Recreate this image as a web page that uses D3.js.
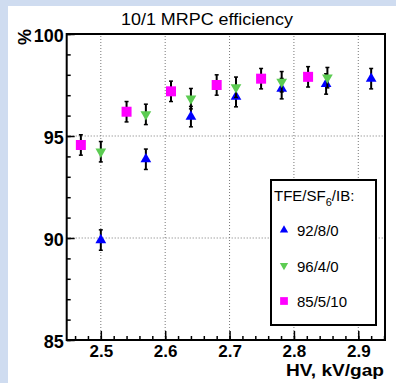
<!doctype html>
<html lang="en">
<head>
  <script src="https://cdnjs.cloudflare.com/ajax/libs/d3/7.8.5/d3.min.js"></script>
  <style type="text/css">
    body {
      padding: 0;
      margin: 0;
      background: #cfdcf0;
    }
    #canvas {
      display: block;
    }
  </style>
</head>
<body>
<svg id="canvas" width="396" height="383"></svg>
<script>

// efficiency (%) vs HV (kV/gap) for three gas mixtures
var hvBlue = [2.50, 2.57, 2.64, 2.71, 2.781, 2.85, 2.92];
var effBlue = [89.9, 93.86, 95.95, 96.93, 97.32, 97.55, 97.81];
var errBlue = [0.5, 0.5, 0.5, 0.5, 0.5, 0.5, 0.5];

var hvGreen = [2.50, 2.57, 2.64, 2.71, 2.781, 2.852];
var effGreen = [94.23, 96.06, 96.83, 97.39, 97.66, 97.86];
var errGreen = [0.5, 0.5, 0.5, 0.5, 0.5, 0.5];

var hvPink = [2.469, 2.54, 2.609, 2.68, 2.749, 2.822];
var effPink = [94.56, 96.19, 97.19, 97.5, 97.81, 97.9];
var errPink = [0.5, 0.5, 0.5, 0.5, 0.5, 0.5];

var xTicks = [2.5, 2.6, 2.7, 2.8, 2.9];
var yTicks = [85, 90, 95, 100];
var legendLabels = ['92/8/0', '96/4/0', '85/5/10'];

var svg = d3.select('#canvas');

// white pad
svg.append('rect')
  .attr('x', 8).attr('y', 6)
  .attr('width', 388).attr('height', 377)
  .attr('fill', '#fff');

var x = d3.scaleLinear().domain([2.447, 2.9415]).range([66.7, 385]);
var y = d3.scaleLinear().domain([85, 100]).range([340, 34]);

var font = 'Liberation Sans, Arial, Helvetica, sans-serif';

// grid
svg.append('g').selectAll('line').data(xTicks).enter().append('line')
  .attr('x1', function(d) { return x(d); })
  .attr('x2', function(d) { return x(d); })
  .attr('y1', y(85)).attr('y2', y(100))
  .attr('stroke', '#777')
  .attr('stroke-width', 1)
  .attr('stroke-dasharray', '1,2');

svg.append('g').selectAll('line').data([90, 95]).enter().append('line')
  .attr('x1', x.range()[0]).attr('x2', x.range()[1])
  .attr('y1', function(d) { return y(d); })
  .attr('y2', function(d) { return y(d); })
  .attr('stroke', '#777')
  .attr('stroke-width', 1)
  .attr('stroke-dasharray', '1,2');

// axes (ticks inside the frame)
var xAxis = d3.axisBottom(x)
  .tickValues(d3.range(2.46, 2.941, 0.02))
  .tickSize(-4)
  .tickFormat('');
svg.append('g').attr('transform', 'translate(0,' + y(85) + ')').call(xAxis)
  .call(function(g) { g.select('.domain').remove(); })
  .selectAll('line').attr('stroke-width', 1.5);

var xMajor = d3.axisBottom(x).tickValues(xTicks).tickSize(-9)
  .tickFormat(d3.format('.1f')).tickPadding(5);
var gx = svg.append('g').attr('transform', 'translate(0,' + y(85) + ')').call(xMajor);
gx.select('.domain').remove();
gx.selectAll('line').attr('stroke-width', 1.5);
gx.selectAll('text')
  .style('font-family', font).style('font-weight', 'bold')
  .style('font-size', '17px').attr('fill', '#000');

var yAxis = d3.axisLeft(y).tickValues(d3.range(85, 100.5, 1)).tickSize(-4).tickFormat('');
svg.append('g').attr('transform', 'translate(' + x.range()[0] + ',0)').call(yAxis)
  .call(function(g) { g.select('.domain').remove(); })
  .selectAll('line').attr('stroke-width', 1.5);

var yMajor = d3.axisLeft(y).tickValues(yTicks).tickSize(-8).tickPadding(3)
  .tickFormat(d3.format('d'));
var gy = svg.append('g').attr('transform', 'translate(' + x.range()[0] + ',0)').call(yMajor);
gy.select('.domain').remove();
gy.selectAll('line').attr('stroke-width', 1.5);
gy.selectAll('text')
  .attr('dy', '0.42em')
  .style('font-family', font).style('font-weight', 'bold')
  .style('font-size', '18px').attr('fill', '#000');

// frame
svg.append('rect')
  .attr('x', x.range()[0]).attr('y', y(100))
  .attr('width', x.range()[1] - x.range()[0])
  .attr('height', y(85) - y(100))
  .attr('fill', 'none')
  .attr('stroke', '#000')
  .attr('stroke-width', 2);

// titles
svg.append('text')
  .attr('x', 121).attr('y', 25)
  .attr('textLength', 172)
  .attr('lengthAdjust', 'spacingAndGlyphs')
  .style('font-family', font)
  .style('font-size', '16.5px')
  .text('10/1 MRPC efficiency');

svg.append('text')
  .attr('transform', 'translate(31,29) rotate(-90)')
  .attr('text-anchor', 'end')
  .style('font-family', font)
  .style('font-weight', 'bold')
  .style('font-size', '18px')
  .text('%');

svg.append('text')
  .attr('x', 286).attr('y', 376)
  .attr('textLength', 98)
  .attr('lengthAdjust', 'spacingAndGlyphs')
  .style('font-family', font)
  .style('font-weight', 'bold')
  .style('font-size', '17px')
  .text('HV, kV/gap');

// series
var series = [
  { hv: hvBlue, eff: effBlue, err: errBlue, color: '#0000ff', type: d3.symbolTriangle, rot: 0, size: 50 },
  { hv: hvGreen, eff: effGreen, err: errGreen, color: '#5ccc52', type: d3.symbolTriangle, rot: 180, size: 50 },
  { hv: hvPink, eff: effPink, err: errPink, color: '#ff00ff', type: d3.symbolSquare, rot: 0, size: 100 }
];

series.forEach(function(s) {
  var pts = s.hv.map(function(h, i) { return { hv: h, eff: s.eff[i], err: s.err[i] }; });
  var g = svg.append('g');
  g.selectAll('.bar').data(pts).enter().append('line')
    .attr('x1', function(d) { return x(d.hv); })
    .attr('x2', function(d) { return x(d.hv); })
    .attr('y1', function(d) { return y(d.eff - d.err); })
    .attr('y2', function(d) { return y(d.eff + d.err); })
    .attr('stroke', '#000').attr('stroke-width', 2);
  [-1, 1].forEach(function(sign) {
    g.selectAll('.cap').data(pts).enter().append('line')
      .attr('x1', function(d) { return x(d.hv) - 2; })
      .attr('x2', function(d) { return x(d.hv) + 2; })
      .attr('y1', function(d) { return y(d.eff + sign * d.err); })
      .attr('y2', function(d) { return y(d.eff + sign * d.err); })
      .attr('stroke', '#000').attr('stroke-width', 1.5);
  });
  g.selectAll('path').data(pts).enter().append('path')
    .attr('d', d3.symbol().type(s.type).size(s.size))
    .attr('transform', function(d) {
      return 'translate(' + x(d.hv) + ',' + y(d.eff) + ') rotate(' + s.rot + ')';
    })
    .attr('fill', s.color);
});

// legend
var leg = svg.append('g');
leg.append('rect')
  .attr('x', 271).attr('y', 180)
  .attr('width', 105).attr('height', 145)
  .attr('fill', '#fff')
  .attr('stroke', '#000')
  .attr('stroke-width', 2);

var head = leg.append('text')
  .attr('x', 274).attr('y', 201)
  .style('font-family', font)
  .style('font-size', '15px');
head.append('tspan').text('TFE/SF');
head.append('tspan').attr('dy', 5).style('font-size', '11px').text('6');
head.append('tspan').attr('dy', -5).text('/IB:');

var legY = d3.scalePoint().domain(legendLabels).range([230, 301]);
legendLabels.forEach(function(lbl, i) {
  var s = series[i];
  leg.append('path')
    .attr('d', d3.symbol().type(s.type).size(s.size * 0.6))
    .attr('transform', 'translate(284,' + legY(lbl) + ') rotate(' + s.rot + ')')
    .attr('fill', s.color);
  leg.append('text')
    .attr('x', 297).attr('y', legY(lbl) + 6)
    .style('font-family', font)
    .style('font-size', '15px')
    .text(lbl);
});

</script>
</body>
</html>
